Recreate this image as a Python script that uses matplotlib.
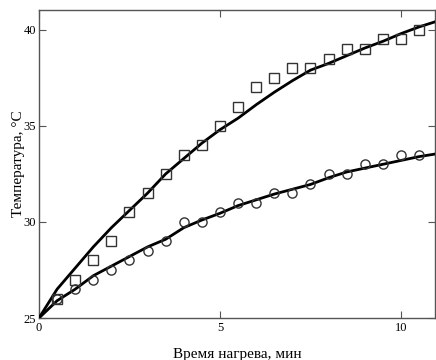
import matplotlib
matplotlib.use('Agg')
import matplotlib.pyplot as plt
import numpy as np

# опытные точки (квадраты - верхняя серия, круги - нижняя)
t_pts = [0.5, 1, 1.5, 2, 2.5, 3, 3.5, 4, 4.5, 5, 5.5, 6, 6.5, 7, 7.5, 8, 8.5, 9, 9.5, 10, 10.5]
T_sq = [26.0, 27.0, 28.0, 29.0, 30.5, 31.5, 32.5, 33.5, 34.0, 35.0, 36.0, 37.0, 37.5, 38.0, 38.0,
        38.5, 39.0, 39.0, 39.5, 39.5, 40.0]
T_ci = [26.0, 26.5, 27.0, 27.5, 28.0, 28.5, 29.0, 30.0, 30.0, 30.5, 31.0, 31.0, 31.5, 31.5, 32.0,
        32.5, 32.5, 33.0, 33.0, 33.5, 33.5]

# расчетные кривые
t_fit = [0, 0.5, 1, 1.5, 2, 2.5, 3, 3.5, 4, 4.5, 5, 5.5, 6, 6.5, 7, 7.5, 8, 8.5, 9, 9.5, 10, 10.5, 11]
T_fit_up = [25.0, 26.5, 27.6, 28.7, 29.7, 30.6, 31.5, 32.5, 33.3, 34.1, 34.8, 35.4, 36.1, 36.75, 37.35,
            37.9, 38.25, 38.65, 39.05, 39.4, 39.8, 40.15, 40.45]
T_fit_lo = [25.0, 25.9, 26.5, 27.2, 27.7, 28.2, 28.7, 29.1, 29.7, 30.1, 30.45, 30.85, 31.15, 31.45, 31.7,
            31.95, 32.3, 32.6, 32.8, 33.0, 33.2, 33.4, 33.55]

plt.rcParams['font.family'] = ['Liberation Serif', 'DejaVu Serif']

fig = plt.figure(figsize=(4.36, 3.6), dpi=100)
ax = fig.add_axes([39 / 436, 42 / 360, 396 / 436, 308 / 360])

ax.plot(t_fit, T_fit_up, color='black', lw=2.0, zorder=3)
ax.plot(t_fit, T_fit_lo, color='black', lw=2.0, zorder=3)
ax.plot(t_pts, T_sq, ls='none', marker='s', ms=7.2, mfc='none', mec='#333333', mew=1.0, zorder=4)
ax.plot(t_pts, T_ci, ls='none', marker='o', ms=6.6, mfc='none', mec='#333333', mew=1.0, zorder=4)

ax.set_xlim(0, 10.94)
ax.set_ylim(25, 41.03)
ax.set_xticks([0, 5, 10])
ax.set_yticks([25, 30, 35, 40])

for s in ax.spines.values():
    s.set_color('#555555')
    s.set_linewidth(1.0)

ax.tick_params(axis='x', direction='in', length=5, top=True, labelsize=9, pad=3, color='#555555')
ax.tick_params(axis='y', direction='in', length=5, right=True, labelsize=9, pad=2, color='#555555')

ax.set_xlabel('Время нагрева, мин', fontsize=11, labelpad=10)
ax.set_ylabel('Температура, °C', fontsize=11, labelpad=-1)

fig.savefig('out.png', dpi=100)
